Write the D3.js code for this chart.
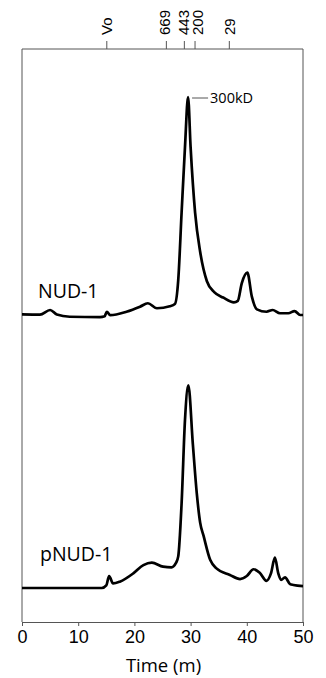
<!DOCTYPE html>
<html>
<head>
<meta charset="utf-8">
<script src="https://cdn.jsdelivr.net/npm/d3@7"></script>
<style>
  body { margin: 0; background: #fff; }
  svg { display: block; font-family: "Open Sans", "Noto Sans", sans-serif; }
  .frame line, .axis path, .axis line { stroke: #555; stroke-width: 1; }
  .trace { fill: none; stroke: #000; stroke-width: 2.7; stroke-linejoin: round; }
</style>
</head>
<body>
<div id="chart"></div>
<script>
// elution time (min) vs. absorbance (arbitrary units, NUD-1 main peak = 100)
var nudTime = [0, 3.2, 5.0, 6.2, 8.5, 13.9, 14.7, 15.1, 15.7, 18.6, 21.0, 22.4, 24.0, 26.3, 27.2, 27.8, 28.4, 29.0, 29.55, 30.0, 30.8, 31.7, 32.9, 34.2, 35.8, 37.7, 38.4, 39.1, 40.1, 40.9, 41.8, 43.5, 44.6, 45.9, 47.4, 48.5, 49.5, 50];
var nudSignal = [0.3, 0.2, 2.3, 0.2, -0.8, -1, -0.6, 1.5, -0.1, 1.5, 3.8, 5.4, 3.1, 4.0, 5.0, 16, 47, 77, 100, 77, 47, 29, 15.5, 10.5, 8.0, 5.8, 6.5, 14.5, 19.4, 8.4, 2.6, 1.5, 2.3, 0.8, 0.8, 1.8, 0, 0];

var pnudTime = [0, 14.2, 15.0, 15.5, 16.2, 17.4, 19.8, 21.6, 23.1, 25.1, 26.6, 27.4, 27.8, 28.4, 29.0, 29.6, 30.4, 31.1, 31.7, 32.3, 33.5, 34.6, 37.0, 38.8, 40.0, 41.2, 42.3, 43.5, 44.3, 45.0, 45.6, 46.1, 46.8, 47.7, 48.3, 50];
var pnudSignal = [0, 0, 1.2, 5.5, 2.1, 2.9, 6.7, 10.5, 11.6, 9.8, 9.5, 11.5, 14.5, 38.9, 77, 93, 66, 43.4, 30, 24, 12.8, 9, 6, 4.1, 5.5, 8.6, 7, 3.3, 6.7, 13.9, 6.7, 3.7, 4.9, 1.8, 1.4, 0.9];

var traceNames = ["NUD-1", "pNUD-1"];

// size standards (top axis)
var markerTime = [15, 25.6, 28.8, 30.7, 36.8];
var markerLabel = ["Vo", "669", "443", "200", "29"];

var peakLabel = "300kD", peakTime = 29.55, peakSignal = 100;
var xTicks = [0, 10, 20, 30, 40, 50];

var width = 326, height = 678;
var svg = d3.select("#chart").append("svg").attr("width", width).attr("height", height);

var plotLeft = 22, plotRight = 303, plotTop = 49, plotBottom = 622;

var x = d3.scaleLinear().domain([0, 50]).range([plotLeft, plotRight]);
var yTop = d3.scaleLinear().domain([0, 100]).range([315, 97]);
var yBot = d3.scaleLinear().domain([0, 100]).range([588, 370]);

// frame
var frame = svg.append("g").attr("class", "frame");
frame.append("line").attr("x1", plotLeft).attr("x2", plotLeft).attr("y1", plotTop).attr("y2", plotBottom);
frame.append("line").attr("x1", plotRight).attr("x2", plotRight).attr("y1", plotTop).attr("y2", plotBottom);

// top axis with size markers
var topAxis = svg.append("g")
    .attr("class", "axis")
    .attr("transform", "translate(0," + plotTop + ")")
    .call(d3.axisTop(x).tickValues(markerTime).tickSize(8).tickSizeOuter(0)
      .tickFormat(function(d, i) { return markerLabel[i]; }));
topAxis.select(".domain").attr("d", "M" + plotLeft + ",0H" + plotRight);
var nudge = [0, -2, -1, 3, 0];
topAxis.selectAll(".tick text")
    .attr("transform", "rotate(-90)")
    .attr("x", 14)
    .attr("y", function(d, i) { return nudge[i]; })
    .attr("dy", "0.36em")
    .style("text-anchor", "start")
    .style("font-size", "15px")
    .attr("fill", "#000");

// bottom axis
var bottomAxis = svg.append("g")
    .attr("class", "axis")
    .attr("transform", "translate(0," + plotBottom + ")")
    .call(d3.axisBottom(x).tickValues(xTicks).tickSize(4).tickSizeOuter(0));
bottomAxis.selectAll("text").style("font-size", "18px").attr("fill", "#000").attr("y", 8);

svg.append("text")
    .attr("x", (plotLeft + plotRight) / 2 + 1).attr("y", 672)
    .attr("text-anchor", "middle")
    .style("font-size", "18.5px")
    .text("Time (m)");

// traces
var line = function(yScale) {
  return d3.line()
    .x(function(d) { return x(d[0]); })
    .y(function(d) { return yScale(d[1]); })
    .curve(d3.curveMonotoneX);
};

svg.append("path").attr("class", "trace")
    .datum(d3.zip(nudTime, nudSignal))
    .attr("d", line(yTop));
svg.append("path").attr("class", "trace")
    .datum(d3.zip(pnudTime, pnudSignal))
    .attr("d", line(yBot));

svg.append("text").attr("x", 38).attr("y", 298).style("font-size", "19.5px").text(traceNames[0]);
svg.append("text").attr("x", 40).attr("y", 561).style("font-size", "19.5px").text(traceNames[1]);

// peak annotation
svg.append("line")
    .attr("x1", x(peakTime) + 4).attr("x2", x(peakTime) + 20)
    .attr("y1", yTop(peakSignal) + 1).attr("y2", yTop(peakSignal) + 1)
    .attr("stroke", "#555").attr("stroke-width", 1);
svg.append("text")
    .attr("x", x(peakTime) + 22).attr("y", yTop(peakSignal) + 1)
    .attr("dy", "0.35em")
    .style("font-size", "14.5px")
    .text(peakLabel);
</script>
</body>
</html>
